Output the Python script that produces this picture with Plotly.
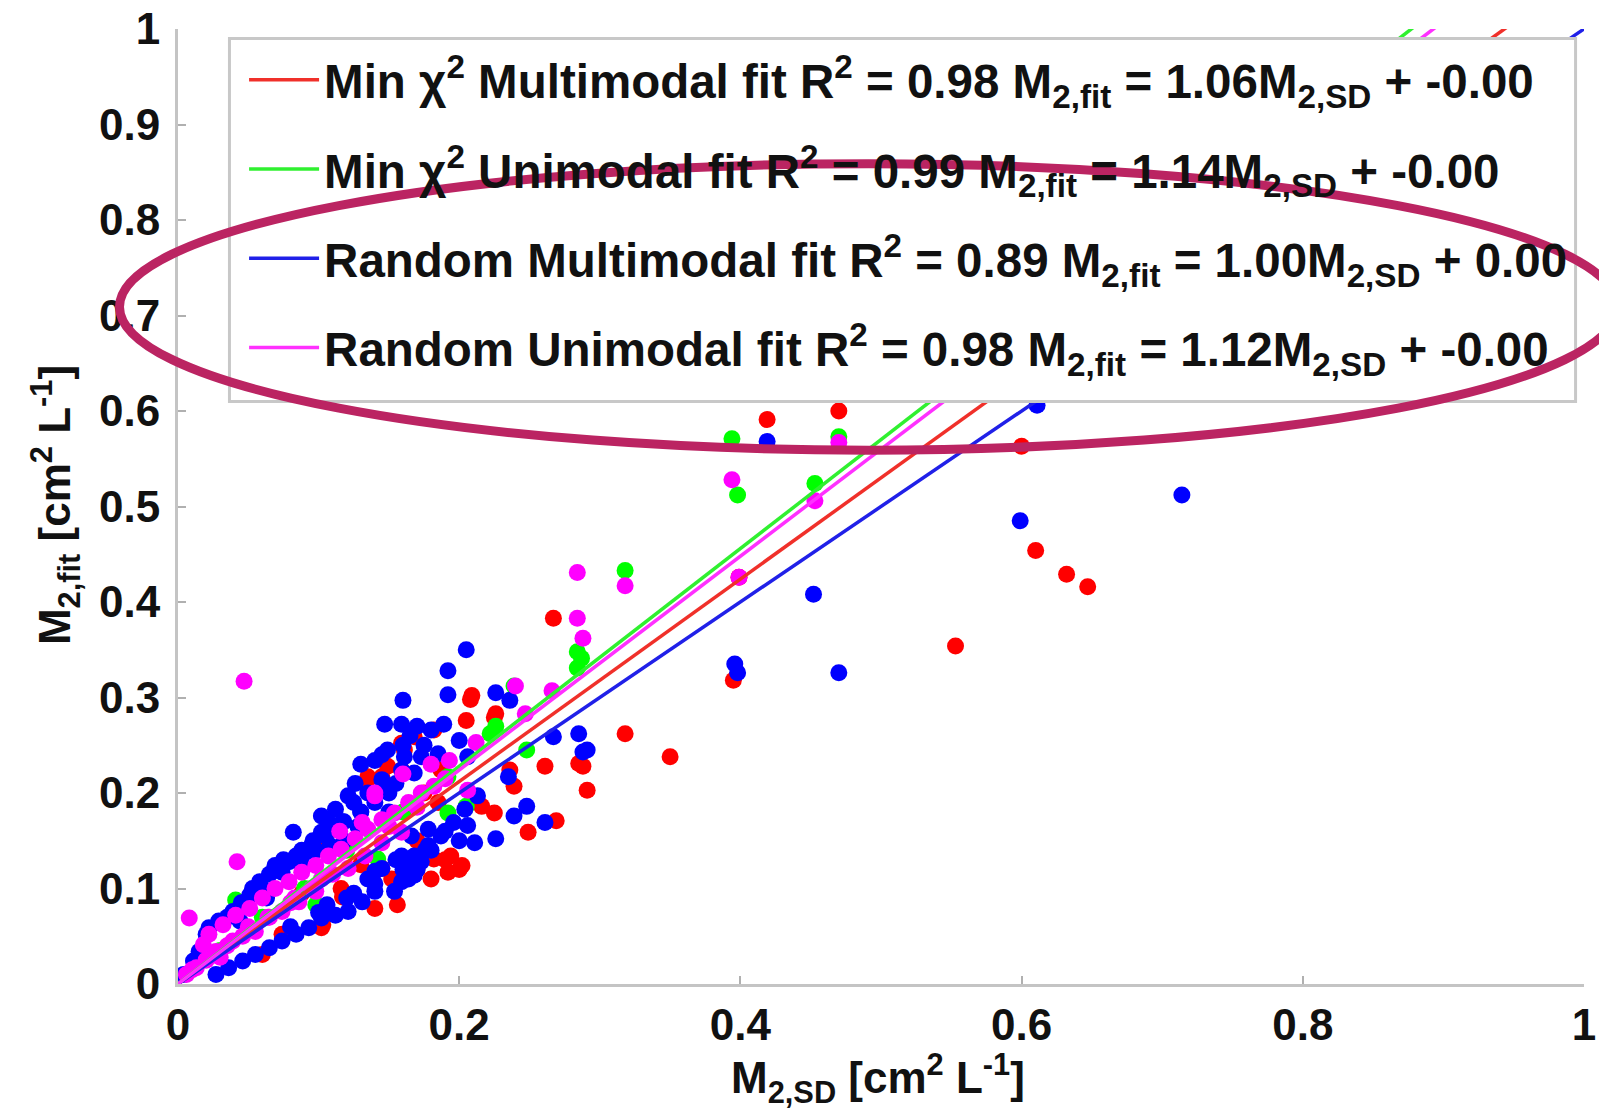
import plotly.graph_objects as go

# ---------------- data ----------------
red_x = [0.419, 0.470, 0.600, 0.610, 0.632, 0.647, 0.553, 0.395, 0.399, 0.350, 0.318, 0.267,
         0.291, 0.288, 0.285, 0.261, 0.249, 0.269, 0.239, 0.236, 0.225, 0.225, 0.208, 0.205,
         0.182, 0.187, 0.161, 0.145, 0.159, 0.182, 0.194, 0.202, 0.192, 0.140, 0.156, 0.102,
         0.100, 0.145, 0.152, 0.121, 0.216, 0.135, 0.060, 0.116, 0.103, 0.100, 0.117, 0.074,
         0.209, 0.226, 0.170, 0.130, 0.088, 0.135, 0.149, 0.159, 0.168, 0.175, 0.185, 0.170,
         0.180, 0.190, 0.200]
red_y = [0.591, 0.600, 0.563, 0.454, 0.429, 0.416, 0.354, 0.318, 0.426, 0.238, 0.262, 0.383,
         0.203, 0.228, 0.231, 0.228, 0.159, 0.171, 0.207, 0.224, 0.279, 0.179, 0.298, 0.276,
         0.266, 0.224, 0.245, 0.217, 0.224, 0.131, 0.134, 0.124, 0.117, 0.079, 0.083, 0.059,
         0.141, 0.121, 0.110, 0.093, 0.186, 0.214, 0.031, 0.100, 0.062, 0.147, 0.091, 0.052,
         0.302, 0.283, 0.150, 0.125, 0.095, 0.217, 0.228, 0.252, 0.259, 0.200, 0.190, 0.120,
         0.110, 0.130, 0.120]

green_x = [0.318, 0.284, 0.287, 0.284, 0.239, 0.222, 0.248, 0.192, 0.205, 0.192, 0.041, 0.142,
           0.098, 0.394, 0.398, 0.453, 0.470, 0.226, 0.160, 0.120, 0.060, 0.030, 0.090]
green_y = [0.433, 0.348, 0.341, 0.331, 0.312, 0.262, 0.245, 0.217, 0.186, 0.179, 0.088, 0.131,
           0.083, 0.571, 0.512, 0.524, 0.573, 0.270, 0.180, 0.140, 0.070, 0.035, 0.100]

blue_x = [0.082, 0.058, 0.053, 0.051, 0.069, 0.074, 0.079, 0.084, 0.091, 0.102, 0.107, 0.112,
          0.102, 0.112, 0.121, 0.126, 0.135, 0.145, 0.149, 0.159, 0.161, 0.168, 0.173, 0.185,
          0.149, 0.140, 0.147, 0.159, 0.160, 0.180, 0.189, 0.192, 0.192, 0.205, 0.200, 0.206,
          0.226, 0.236, 0.235, 0.239, 0.248, 0.261, 0.226, 0.211, 0.206, 0.267, 0.285, 0.288,
          0.291, 0.213, 0.204, 0.187, 0.178, 0.173, 0.168, 0.159, 0.154, 0.140, 0.131, 0.121,
          0.112, 0.102, 0.093, 0.084, 0.074, 0.065, 0.055, 0.046, 0.036, 0.027, 0.020, 0.022,
          0.029, 0.039, 0.135, 0.145, 0.164, 0.168, 0.159, 0.166, 0.178, 0.196, 0.011, 0.015,
          0.004, 0.419, 0.611, 0.599, 0.714, 0.452, 0.396, 0.398, 0.470, 0.096, 0.117, 0.130,
          0.063, 0.044, 0.118, 0.108, 0.128, 0.098, 0.088, 0.150, 0.155, 0.170, 0.176, 0.125,
          0.106, 0.140, 0.165, 0.125, 0.130, 0.118, 0.105, 0.095, 0.088, 0.075, 0.065, 0.060,
          0.045, 0.035, 0.140, 0.150, 0.155, 0.165, 0.175, 0.170, 0.160, 0.145, 0.130, 0.080,
          0.100, 0.120, 0.140, 0.160, 0.180, 0.200, 0.190]
blue_y = [0.159, 0.107, 0.100, 0.093, 0.124, 0.117, 0.128, 0.134, 0.138, 0.159, 0.169, 0.162,
          0.176, 0.183, 0.197, 0.210, 0.200, 0.214, 0.203, 0.224, 0.238, 0.221, 0.238, 0.241,
          0.245, 0.234, 0.272, 0.272, 0.297, 0.266, 0.272, 0.328, 0.303, 0.350, 0.255, 0.238,
          0.305, 0.297, 0.217, 0.176, 0.186, 0.169, 0.152, 0.148, 0.166, 0.259, 0.262, 0.243,
          0.245, 0.197, 0.183, 0.155, 0.145, 0.128, 0.114, 0.107, 0.097, 0.097, 0.086, 0.076,
          0.072, 0.069, 0.059, 0.052, 0.045, 0.038, 0.031, 0.024, 0.017, 0.010, 0.052, 0.059,
          0.066, 0.076, 0.110, 0.121, 0.110, 0.134, 0.134, 0.155, 0.162, 0.169, 0.024, 0.034,
          0.010, 0.568, 0.606, 0.485, 0.512, 0.408, 0.335, 0.326, 0.326, 0.150, 0.170, 0.180,
          0.090, 0.066, 0.150, 0.145, 0.165, 0.140, 0.125, 0.180, 0.130, 0.120, 0.140, 0.095,
          0.083, 0.118, 0.125, 0.190, 0.180, 0.170, 0.155, 0.145, 0.140, 0.130, 0.115, 0.100,
          0.085, 0.070, 0.190, 0.200, 0.210, 0.260, 0.250, 0.270, 0.250, 0.240, 0.230, 0.060,
          0.075, 0.090, 0.105, 0.120, 0.140, 0.150, 0.160]

magenta_x = [0.047, 0.042, 0.008, 0.284, 0.284, 0.288, 0.318, 0.240, 0.247, 0.266, 0.212, 0.193,
             0.206, 0.022, 0.032, 0.041, 0.051, 0.060, 0.069, 0.079, 0.088, 0.098, 0.107, 0.116,
             0.126, 0.135, 0.145, 0.154, 0.164, 0.173, 0.182, 0.131, 0.140, 0.074, 0.086, 0.098,
             0.121, 0.133, 0.145, 0.159, 0.013, 0.006, 0.027, 0.039, 0.055, 0.018, 0.394, 0.453,
             0.470, 0.399, 0.190, 0.115, 0.030, 0.046, 0.064, 0.083, 0.102, 0.150, 0.170, 0.010,
             0.020, 0.035, 0.050, 0.065, 0.080, 0.095, 0.110, 0.140, 0.160, 0.180]
magenta_y = [0.317, 0.128, 0.069, 0.431, 0.383, 0.362, 0.417, 0.312, 0.283, 0.307, 0.253, 0.234,
             0.203, 0.052, 0.062, 0.072, 0.079, 0.090, 0.100, 0.107, 0.117, 0.124, 0.134, 0.141,
             0.152, 0.162, 0.172, 0.179, 0.190, 0.200, 0.207, 0.169, 0.197, 0.076, 0.086, 0.097,
             0.121, 0.134, 0.148, 0.159, 0.017, 0.010, 0.034, 0.045, 0.055, 0.041, 0.528, 0.506,
             0.567, 0.426, 0.215, 0.160, 0.028, 0.050, 0.070, 0.090, 0.110, 0.165, 0.185, 0.015,
             0.025, 0.040, 0.060, 0.070, 0.085, 0.100, 0.115, 0.200, 0.220, 0.230]

fit_names = [
    "<b>Min χ<sup>2</sup> Multimodal fit R<sup>2</sup> = 0.98 M<sub>2,fit</sub> = 1.06M<sub>2,SD</sub> + -0.00</b>",
    "<b>Min χ<sup>2</sup> Unimodal fit R<sup>2</sup> = 0.99 M<sub>2,fit</sub> = 1.14M<sub>2,SD</sub> + -0.00</b>",
    "<b>Random Multimodal fit R<sup>2</sup> = 0.89 M<sub>2,fit</sub> = 1.00M<sub>2,SD</sub> + 0.00</b>",
    "<b>Random Unimodal fit R<sup>2</sup> = 0.98 M<sub>2,fit</sub> = 1.12M<sub>2,SD</sub> + -0.00</b>",
]
fit_slopes = [1.06, 1.14, 1.00, 1.12]
fit_intercepts = [0.0, 0.0, 0.0, 0.0]
fit_x = [0.0, 1.0]

x_ticks = [0, 0.2, 0.4, 0.6, 0.8, 1]
y_ticks = [0, 0.1, 0.2, 0.3, 0.4, 0.5, 0.6, 0.7, 0.8, 0.9, 1]

# ---------------- styling ----------------
marker_colors = ["#ff0000", "#00ff00", "#0000ff", "#ff00ff"]
line_colors = ["#f0302a", "#30f030", "#2020e8", "#ff30ff"]
FONT = "Liberation Sans, Arial, sans-serif"

fig = go.Figure()
series = [(red_x, red_y), (green_x, green_y), (blue_x, blue_y), (magenta_x, magenta_y)]
for (sx, sy), c in zip(series, marker_colors):
    fig.add_trace(go.Scatter(x=sx, y=sy, mode="markers", showlegend=False,
                             marker=dict(color=c, size=17, line=dict(width=0))))

for i, (name, m, b, c) in enumerate(zip(fit_names, fit_slopes, fit_intercepts, line_colors)):
    fig.add_trace(go.Scatter(x=fit_x, y=[m * xv + b for xv in fit_x], mode="lines",
                             name=name, legendgroup="g%d" % i,
                             line=dict(color=c, width=3.5)))

axis_common = dict(
    range=[0, 1], showgrid=False, zeroline=False, showline=True, linecolor="#c4c4c4",
    linewidth=3, ticks="inside", ticklen=8, tickwidth=2, tickcolor="#b0b0b0",
    tickfont=dict(family=FONT, size=44, color="#111111"), mirror=False, automargin=False,
)
fig.update_xaxes(**axis_common, tickvals=x_ticks, ticktext=["<b>%g</b>" % v for v in x_ticks])
fig.update_yaxes(**axis_common, tickvals=y_ticks, ticktext=["<b>%g</b>" % v for v in y_ticks],
                 ticklabelstandoff=6)

fig.update_layout(
    width=1599, height=1119,
    margin=dict(l=178, r=15, t=29, b=135, autoexpand=False),
    plot_bgcolor="white", paper_bgcolor="white",
    font=dict(family=FONT, color="#111111"),
    legend=dict(x=0.047, y=0.986, xanchor="left", yanchor="top",
                bgcolor="rgba(0,0,0,0)", borderwidth=0,
                font=dict(family=FONT, size=47.5, color="#111111"),
                itemwidth=70, tracegroupgap=24.5),
    shapes=[
        dict(type="rect", xref="paper", yref="paper", x0=0.0366, x1=0.994, y0=0.610, y1=0.990,
             fillcolor="white", line=dict(color="#c8c8c8", width=3), layer="above"),
        dict(type="circle", xref="paper", yref="paper", x0=-0.0416, x1=1.0238, y0=0.559, y1=0.859,
             line=dict(color="#bb2462", width=9), layer="above"),
    ],
    annotations=[
        dict(text="<b>M<sub>2,fit</sub> [cm<sup>2</sup> L<sup>-1</sup>]</b>", xref="paper", yref="paper",
             x=-0.0871, y=0.501, xanchor="center", yanchor="middle", textangle=-90, showarrow=False,
             font=dict(family=FONT, size=44, color="#111111")),
        dict(text="<b>M<sub>2,SD</sub> [cm<sup>2</sup> L<sup>-1</sup>]</b>", xref="paper", yref="paper",
             x=0.498, y=-0.0990, xanchor="center", yanchor="middle", showarrow=False,
             font=dict(family=FONT, size=44, color="#111111")),
    ],
)

fig.write_html("out.html")
